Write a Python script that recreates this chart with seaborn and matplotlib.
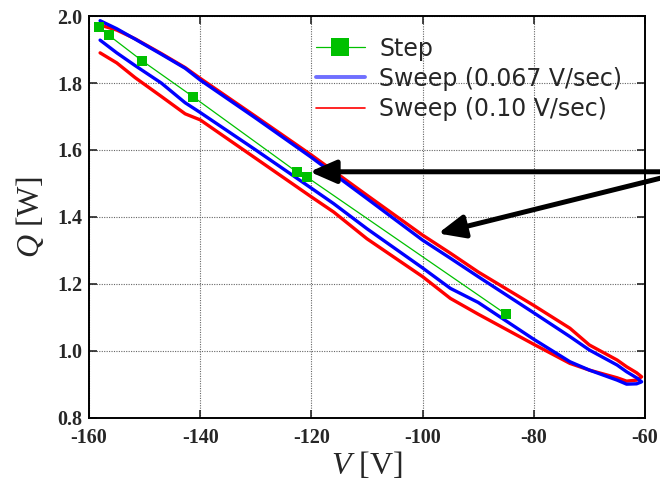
import matplotlib
matplotlib.use("Agg")
import matplotlib.pyplot as plt
import numpy as np
import seaborn as sns

# Step measurement
step_v = [-158.2, -156.4, -150.5, -141.2, -122.5, -120.7, -85.0]
step_q = [1.966, 1.942, 1.867, 1.758, 1.533, 1.518, 1.110]

# sweep loops: upper branch (V rising) then lower branch (V falling)
v_up = [-158.0, -155.0, -151.7, -147.0, -142.7, -140.0, -130.0, -120.0, -110.0,
        -100.0, -95.0, -90.0, -80.0, -73.5, -70.0, -65.0, -63.3, -61.5, -60.6]
blue_up = [1.986, 1.962, 1.931, 1.886, 1.844, 1.809, 1.695, 1.578, 1.455,
           1.331, 1.277, 1.222, 1.114, 1.043, 1.003, 0.958, 0.938, 0.920, 0.908]
red_up = [1.973, 1.958, 1.932, 1.888, 1.846, 1.814, 1.700, 1.585, 1.465,
          1.346, 1.292, 1.236, 1.136, 1.068, 1.018, 0.973, 0.953, 0.935, 0.923]

v_low = [-60.6, -61.5, -63.3, -65.0, -70.0, -73.5, -80.0, -90.0, -95.0, -100.0,
         -110.0, -116.0, -120.0, -130.0, -140.0, -142.7, -147.0, -151.7, -155.0, -158.0]
blue_low = [0.908, 0.902, 0.901, 0.913, 0.943, 0.968, 1.035, 1.145, 1.187, 1.248,
            1.365, 1.440, 1.486, 1.600, 1.712, 1.741, 1.800, 1.852, 1.890, 1.928]
red_low = [0.923, 0.913, 0.910, 0.920, 0.943, 0.963, 1.020, 1.110, 1.157, 1.222,
           1.335, 1.415, 1.460, 1.575, 1.690, 1.708, 1.760, 1.816, 1.860, 1.890]

# arrows: (tip V, tip Q, tail V, tail Q)
arrow_h = (-120.3, 1.535, -55.0, 1.535)
arrow_d = (-97.2, 1.351, -55.0, 1.525)

sns.set_style("ticks")
plt.rcParams["font.family"] = ["Liberation Serif", "DejaVu Serif"]
plt.rcParams["mathtext.fontset"] = "custom"
plt.rcParams["mathtext.it"] = "Liberation Serif:italic"
plt.rcParams["mathtext.rm"] = "Liberation Serif"
plt.rcParams["axes.unicode_minus"] = False

fig = plt.figure(figsize=(6.6, 4.82), dpi=100)
ax = fig.add_axes([0.1348, 0.1328, 0.8424, 0.834])

sns.lineplot(x=v_up + v_low, y=red_up + red_low, sort=False, estimator=None,
             color="#ff0000", lw=2.4, ax=ax, label="Sweep (0.10 V/sec)")
sns.lineplot(x=v_up + v_low, y=blue_up + blue_low, sort=False, estimator=None,
             color="#0000ff", lw=2.4, ax=ax, label="Sweep (0.067 V/sec)")
sns.lineplot(x=step_v, y=step_q, sort=False, estimator=None, color="#00c000",
             lw=0.9, marker="s", markersize=6.5, markeredgewidth=0, ax=ax,
             label="Step")

ax.set_xlim(-160, -60)
ax.set_ylim(0.8, 2.0)
ax.set_xticks(np.arange(-160, -59, 20))
ax.set_yticks(np.arange(0.8, 2.01, 0.2))
ax.set_yticklabels([f"{t:.1f}" for t in np.arange(0.8, 2.01, 0.2)])
ax.grid(True, color="0.4", linestyle=(0, (1, 1.2)), linewidth=0.8)
for s in ax.spines.values():
    s.set_linewidth(1.4)
    s.set_color("black")
ax.tick_params(direction="in", length=6, width=1.2, top=True, right=True,
               labelsize=14.5, pad=7)
for lab in ax.get_xticklabels() + ax.get_yticklabels():
    lab.set_fontweight("bold")
ax.tick_params(axis="y", pad=5)

ax.set_xlabel(r"$V$ [V]", fontsize=23, labelpad=2)
ax.set_ylabel(r"$Q$ [W]", fontsize=23, labelpad=8)

for tip_v, tip_q, tail_v, tail_q in (arrow_h, arrow_d):
    ax.annotate("", xy=(tip_v, tip_q), xytext=(tail_v, tail_q),
                annotation_clip=False,
                arrowprops=dict(arrowstyle="-|>,head_length=1.6,head_width=0.7",
                                color="black", lw=3.6, shrinkA=0, shrinkB=0))

handles, labels = ax.get_legend_handles_labels()
order = [2, 1, 0]
leg = ax.legend([handles[i] for i in order], [labels[i] for i in order],
                loc="upper left", bbox_to_anchor=(0.378, 0.99), frameon=False,
                prop={"family": ["DejaVu Sans"], "size": 17},
                handlelength=2.1, handletextpad=0.6, labelspacing=0.26,
                borderpad=0.2)
lh = leg.legend_handles
lh[0].set_markersize(13)
lh[1].set_color("#6f6fff")
lh[1].set_linewidth(2.8)
lh[2].set_linewidth(1.2)

fig.savefig("out.png", dpi=100)
